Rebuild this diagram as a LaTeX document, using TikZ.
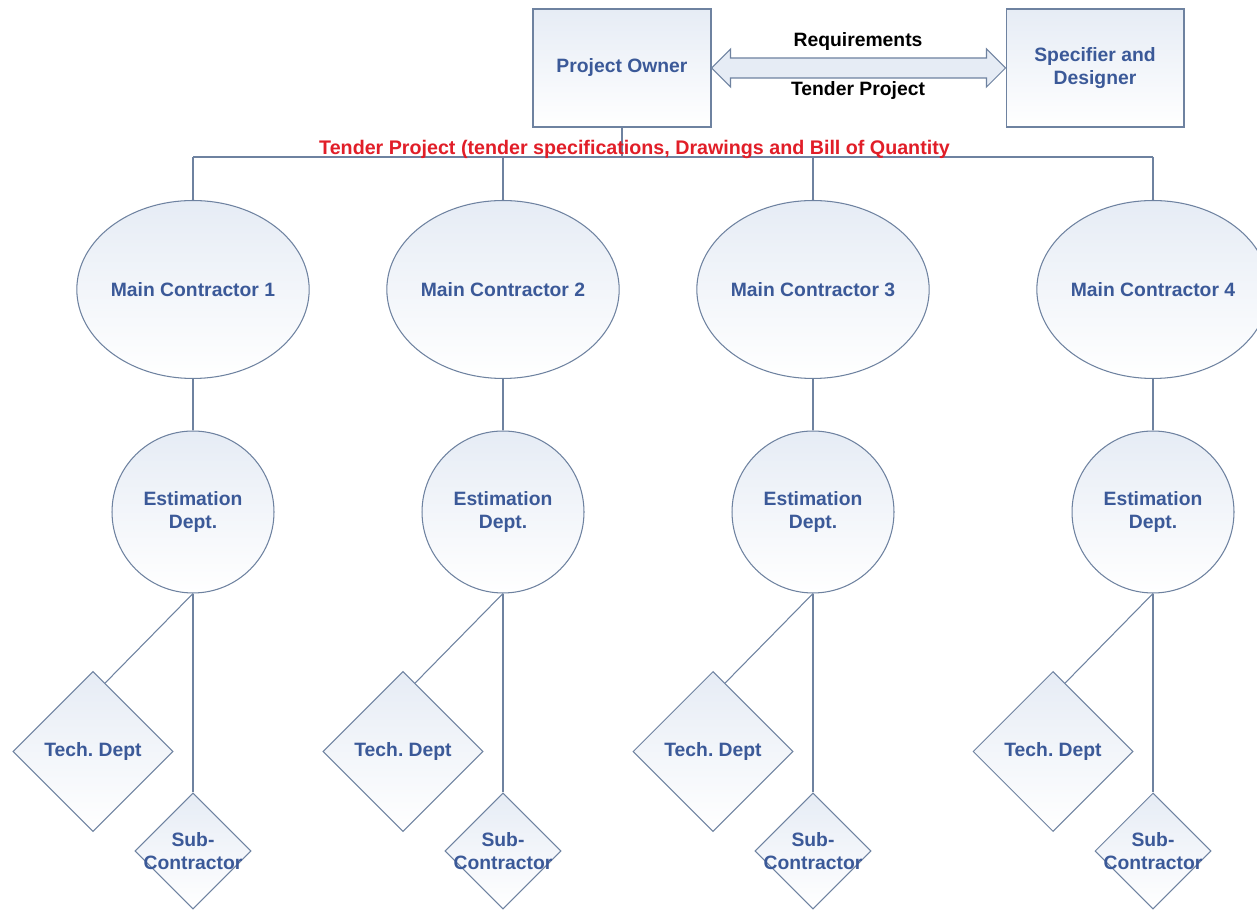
\documentclass[tikz,border=0pt]{standalone}
\usepackage{fontspec}
\setmainfont{Liberation Sans}
\usetikzlibrary{shapes.geometric,calc}
\definecolor{edge}{RGB}{110,130,160}
\definecolor{txtblue}{RGB}{59,89,152}
\definecolor{shadetop}{RGB}{230,236,245}
\definecolor{redtxt}{RGB}{225,30,40}
\tikzset{
 conn/.style={draw=edge, line width=0.6pt},
 shp/.style={draw=edge, line width=0.6pt, top color=shadetop, bottom color=white, inner sep=0pt, text=txtblue, font=\bfseries\fontsize{11}{13}\selectfont, align=center},
 boxnode/.style={shp, rectangle, minimum width=3.56cm, minimum height=2.36cm},
 mcnode/.style={shp, ellipse, minimum width=4.12cm, minimum height=3.56cm},
 estnode/.style={shp, circle, minimum size=3.24cm},
 technode/.style={shp, diamond, minimum width=3.2cm, minimum height=3.2cm},
 subnode/.style={shp, diamond, minimum width=2.32cm, minimum height=2.32cm},
 sublbl/.style={text=txtblue, font=\bfseries\fontsize{11}{13}\selectfont, align=center},
 lbl/.style={font=\bfseries\fontsize{11}{13}\selectfont, text=black},
 redlbl/.style={font=\bfseries\fontsize{11.2}{13}\selectfont, text=redtxt},
}
\begin{document}
\frenchspacing
\begin{tikzpicture}[x=0.02cm,y=-0.02cm]
\useasboundingbox[fill=white] (0,0) rectangle (1257,911);

% top boxes
\node[boxnode] (po) at (622,68) {Project Owner};
\node[boxnode] (sd) at (1095,68) {Specifier and\\Designer};

% double arrow
\draw[conn, fill=shadetop] (po.east) -- ++(19,-19) -- ++(0,9) -- ($(sd.west)+(-19,-10)$) -- ++(0,-9) -- (sd.west) -- ++(-19,19) -- ++(0,-9) -- ($(po.east)+(19,10)$) -- ++(0,9) -- cycle;
\node[lbl] (req) at (858,42) {Requirements};
\node[lbl] (tpl) at (858,91) {Tender Project};

% bus
\coordinate (b1) at (193,157);
\coordinate (b4) at (1153,157);
\draw[conn] (po.south) -- (po.south |- b1);
\draw[conn] (b1) -- (b4);

\foreach \i/\x in {1/193,2/503,3/813,4/1153}{
  \node[mcnode] (mc\i) at (\x,289.5) {Main Contractor \i};
  \node[estnode] (est\i) at (\x,512) {Estimation\\Dept.};
  \node[technode] (tech\i) at (\x-100,751.5) {Tech. Dept};
  \node[subnode, label={[sublbl]center:Sub-\\Contractor}] (sub\i) at (\x,851) {};
  \draw[conn] (mc\i.north |- b1) -- (mc\i.north);
  \draw[conn] (mc\i.south) -- (est\i.north);
  \draw[conn] (est\i.south) -- (sub\i.north);
  \draw[conn] (est\i.south) -- ($(tech\i.north)!0.15!(tech\i.east)$);
}

\node[redlbl, anchor=base] (red) at (634.5,155) {Tender Project (tender specifications, Drawings and Bill of Quantity};
\end{tikzpicture}
\end{document}
